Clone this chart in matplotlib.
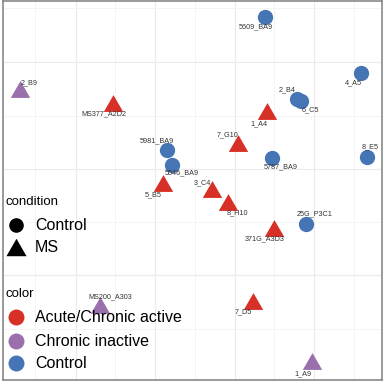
import matplotlib
matplotlib.use("Agg")
import matplotlib.pyplot as plt
from matplotlib.lines import Line2D
from matplotlib.patches import Rectangle
import numpy as np

plt.rcParams['font.family'] = ['Liberation Sans', 'DejaVu Sans']

# ---- data (units are arbitrary plot units) ----
samples = ["5609_BA9", "2_B9", "MS377_A2D2", "4_A5", "2_B4", "6_C5", "1_A4", "7_G10",
           "5981_BA9", "5546_BA9", "5787_BA9", "8_E5", "5_B5", "3_C4", "8_H10",
           "371G_A3D3", "25G_P3C1", "7_D5", "1_A9", "MS200_A303"]
pc_x = [265, 20, 113, 361, 296.5, 301, 267, 237.5, 166.5, 171.5, 271.5, 366.5,
        163, 212, 228, 273.5, 306, 253, 312, 100]
pc_y = [17, 89, 103, 73, 99, 101, 111, 142.5, 150, 164.5, 157.5, 156.5,
        183, 189, 202, 227.5, 223.5, 301, 361, 305]
label_x = [256, 29.5, 103.5, 353, 287, 310, 259, 228, 157, 182, 281, 370.5,
           153.5, 202, 237.5, 265, 315, 243.5, 302.7, 110]
label_y = [27, 83, 114, 83, 90, 110, 124, 135, 141, 173, 167, 147,
           195, 183, 213, 239, 214, 312, 374, 297]
condition = ["Control", "MS", "MS", "Control", "Control", "Control", "MS", "MS",
             "Control", "Control", "Control", "Control", "MS", "MS", "MS",
             "MS", "Control", "MS", "MS", "MS"]
color_group = ["Control", "Chronic inactive", "Acute/Chronic active", "Control", "Control",
               "Control", "Acute/Chronic active", "Acute/Chronic active", "Control",
               "Control", "Control", "Control", "Acute/Chronic active",
               "Acute/Chronic active", "Acute/Chronic active", "Acute/Chronic active",
               "Control", "Acute/Chronic active", "Chronic inactive", "Chronic inactive"]

condition_levels = ["Control", "MS"]
color_levels = ["Acute/Chronic active", "Chronic inactive", "Control"]

# ---- styles ----
palette = {"Acute/Chronic active": "#D73027",
           "Chronic inactive": "#9970AB",
           "Control": "#4575B4"}
tri = [(-1, -0.866), (1, -0.866), (0, 0.866)]
markers = {"Control": "o", "MS": tri}
msizes = {"Control": 11, "MS": 14}

W = H = 384
fig = plt.figure(figsize=(3.84, 3.84), dpi=100)
ax = fig.add_axes([3 / W, 4 / H, 379 / W, 379 / H])
ax.set_xlim(3, 382)
ax.set_ylim(380, 1)

# grid
ax.set_xticks([75.5, 155, 234.5, 314])
ax.set_xticks([35, 115, 195, 274, 354], minor=True)
ax.set_yticks([62, 169, 275])
ax.set_yticks([8, 116, 222, 329], minor=True)
ax.tick_params(which="both", length=0, labelbottom=False, labelleft=False)
ax.grid(which="major", color="#EBEBEB", lw=0.85)
ax.grid(which="minor", color="#F3F3F3", lw=0.6)
ax.set_axisbelow(True)
for s in ax.spines.values():
    s.set_color("#7F7F7F")
    s.set_linewidth(1.1)

# points
for i in range(len(samples)):
    ax.plot(pc_x[i], pc_y[i], linestyle="none", marker=markers[condition[i]],
            markersize=msizes[condition[i]], color=palette[color_group[i]],
            markeredgewidth=0, zorder=3)
for i in range(len(samples)):
    ax.text(label_x[i], label_y[i], samples[i], fontsize=5.2, color="#333333",
            ha="center", va="center", zorder=4)

# ---- legends (figure pixel coordinates) ----
def fx(x):
    return x / W

def fy(y):
    return 1 - y / H

def key_bg(y):
    fig.add_artist(Rectangle((fx(4), fy(y + 11.5)), 24 / W, 23 / H,
                             transform=fig.transFigure, facecolor="white",
                             edgecolor="none", zorder=5))

fig.text(fx(5), fy(202), "condition", fontsize=9.5, ha="left", va="center", zorder=6)
cond_y = [225, 247]
for lvl, y in zip(condition_levels, cond_y):
    key_bg(y)
    fig.add_artist(Line2D([fx(16)], [fy(y)], transform=fig.transFigure, linestyle="none",
                          marker=markers[lvl], markersize=10.5 if lvl == "Control" else 14.5,
                          color="black", markeredgewidth=0, zorder=6))
    fig.text(fx(35), fy(y), lvl, fontsize=11.5, ha="left", va="center", zorder=6)

fig.text(fx(5), fy(294), "color", fontsize=9.5, ha="left", va="center", zorder=6)
col_y = [317, 341, 363]
for lvl, y in zip(color_levels, col_y):
    key_bg(y)
    fig.add_artist(Line2D([fx(16)], [fy(y)], transform=fig.transFigure, linestyle="none",
                          marker="o", markersize=11.5, color=palette[lvl],
                          markeredgewidth=0, zorder=6))
    fig.text(fx(35), fy(y), lvl, fontsize=11.5, ha="left", va="center", zorder=6)

fig.savefig("out.png", dpi=100)
